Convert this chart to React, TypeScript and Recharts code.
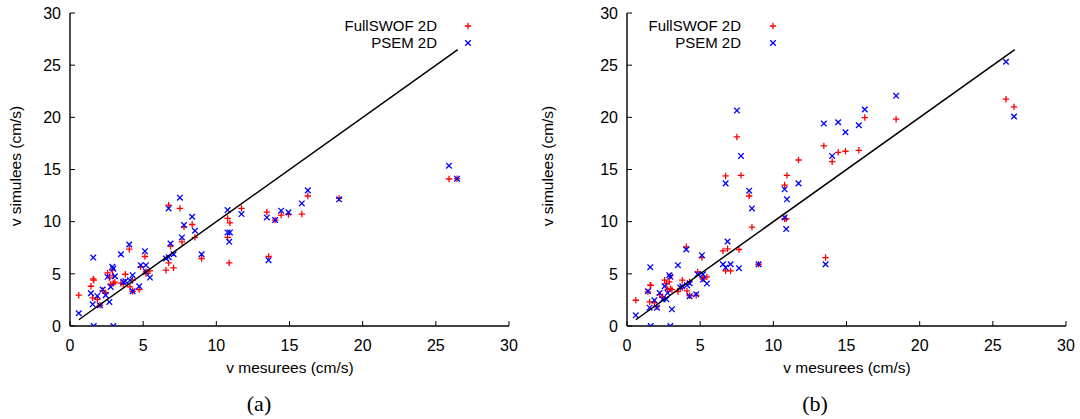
import React from 'react';
import { ScatterChart, Scatter, XAxis, YAxis } from 'recharts';

// measured velocities (cm/s), shared by both panels and both series
const measured = [
  0.6, 1.43, 1.59, 1.62, 1.55, 1.87, 2.05, 2.23, 2.44, 2.57,
  2.69, 2.78, 2.89, 2.96, 2.96, 3.07, 3.48, 3.64, 3.78, 4.05,
  4.1, 4.28, 4.28, 4.73, 4.83, 5.12, 5.19, 5.19, 5.46, 6.56,
  6.74, 6.74, 6.87, 7.08, 7.51, 7.65, 7.79, 8.35, 8.54, 8.99,
  10.77, 10.77, 10.93, 10.88, 11.72, 13.45, 13.57, 14.02, 14.43, 14.93,
  15.84, 16.25, 18.39, 25.9, 26.45,
];
// panel (a)
const fullswofA = [
  2.95, 3.81, 4.51, 4.4, 2.69, 2.56, 1.99, 3.4, 3.2, 5.09,
  4.61, 4.0, 5.35, 4.8, 4.07, 4.2, 4.1, 4.0, 4.96, 7.36,
  3.75, 4.39, 3.33, 3.49, 5.67, 6.66, 5.03, 5.2, 5.28, 5.35,
  11.59, 6.05, 7.65, 5.57, 11.27, 8.07, 9.51, 9.73, 8.49, 6.47,
  10.31, 8.49, 9.89, 6.05, 11.27, 10.92, 6.66, 10.15, 10.63, 10.69,
  10.73, 12.46, 12.23, 14.09, 14.12,
];
const psemA = [
  1.22, 3.14, 6.56, 0, 2.08, 2.88, 1.99, 3.49, 2.95, 4.71,
  2.31, 3.75, 5.67, 5.5, 0, 4.77, 6.88, 4.23, 4.3, 7.81,
  4.39, 4.87, 3.33, 3.81, 5.83, 7.17, 5.83, 5.19, 4.64, 6.47,
  11.27, 6.6, 7.91, 6.88, 12.3, 8.49, 9.67, 10.47, 9.13, 6.88,
  11.11, 8.97, 8.97, 8.07, 10.73, 10.41, 6.31, 10.15, 11.05, 10.89,
  11.75, 13.0, 12.14, 15.37, 14.12,
];
// panel (b)
const fullswofB = [
  2.47, 3.27, 3.91, 3.9, 2.31, 2.21, 1.83, 3.0, 2.8, 4.39,
  4.07, 3.5, 4.23, 4.8, 3.55, 3.49, 3.3, 3.6, 4.39, 7.59,
  3.36, 4.23, 2.9, 2.95, 5.19, 6.56, 4.64, 4.5, 4.71, 7.2,
  14.38, 5.28, 7.4, 5.28, 18.12, 7.33, 14.44, 12.46, 9.48, 5.92,
  13.51, 10.28, 14.44, 10.28, 15.91, 17.26, 6.56, 15.75, 16.65, 16.75,
  16.84, 19.98, 19.82, 21.74, 21.0,
];
const psemB = [
  1.02, 3.33, 5.64, 0, 1.76, 2.47, 1.76, 3.17, 2.56, 3.81,
  2.56, 3.17, 4.87, 4.71, 0, 1.6, 5.83, 3.68, 3.8, 7.33,
  3.91, 4.1, 2.85, 3.04, 4.96, 6.79, 4.96, 4.45, 4.07, 5.92,
  13.67, 5.6, 8.1, 5.92, 20.65, 5.54, 16.3, 12.97, 11.27, 5.92,
  13.1, 10.41, 12.14, 9.29, 13.67, 19.4, 5.92, 16.3, 19.53, 18.57,
  19.24, 20.75, 22.06, 25.33, 20.08,
];
const tickValues = [0, 5, 10, 15, 20, 25, 30];
const diagonal = [0.6, 26.5];
const seriesNames = ['FullSWOF 2D', 'PSEM 2D'];
const xTitle = 'v mesurees (cm/s)';
const yTitle = 'v simulees (cm/s)';
const captions = ['(a)', '(b)'];

const RED = '#ff0000';
const BLUE = '#0000ff';
const SANS = '"Liberation Sans", Arial, Helvetica, sans-serif';
const SERIF = '"Liberation Serif", "Times New Roman", serif';

const Plus = (props: any) => {
  const { cx, cy } = props;
  if (cx == null || cy == null) return <g />;
  const s = 3.2;
  return (
    <path d={`M${cx - s},${cy}H${cx + s}M${cx},${cy - s}V${cy + s}`} stroke={RED} strokeWidth={1.3} fill="none" />
  );
};
const Cross = (props: any) => {
  const { cx, cy } = props;
  if (cx == null || cy == null) return <g />;
  const s = 2.8;
  return (
    <path d={`M${cx - s},${cy - s}L${cx + s},${cy + s}M${cx - s},${cy + s}L${cx + s},${cy - s}`} stroke={BLUE} strokeWidth={1.3} fill="none" />
  );
};
const NoShape = () => <g />;

const tickStyle = { fill: '#000', fontSize: 16, fontFamily: SANS };
const axisLine = { stroke: '#000', strokeWidth: 1.4 };
const tickLine = { stroke: '#000', strokeWidth: 1 };

type PanelProps = {
  red: number[];
  blue: number[];
  marginLeft: number;
  marginRight: number;
};

function Panel({ red, blue, marginLeft, marginRight }: PanelProps) {
  const redData = measured.map((x, i) => ({ x, y: red[i] }));
  const blueData = measured.map((x, i) => ({ x, y: blue[i] }));
  const lineData = diagonal.map((v) => ({ x: v, y: v }));
  return (
    <ScatterChart
      width={540}
      height={419}
      margin={{ top: 13, right: marginRight, bottom: 53, left: marginLeft }}
    >
      <XAxis
        xAxisId="b"
        type="number"
        dataKey="x"
        domain={[0, 30]}
        ticks={tickValues}
        height={40}
        tickSize={-5}
        tickMargin={18.5}
        axisLine={axisLine}
        tickLine={tickLine}
        tick={tickStyle}
        allowDataOverflow
      />
      <XAxis
        xAxisId="t"
        orientation="top"
        type="number"
        dataKey="x"
        domain={[0, 30]}
        ticks={tickValues}
        height={0}
        tickSize={-5}
        axisLine={axisLine}
        tickLine={tickLine}
        tick={false}
        allowDataOverflow
      />
      <YAxis
        yAxisId="l"
        type="number"
        dataKey="y"
        domain={[0, 30]}
        ticks={tickValues}
        width={60}
        tickSize={-5}
        tickMargin={14}
        axisLine={axisLine}
        tickLine={tickLine}
        tick={tickStyle}
        allowDataOverflow
      />
      <YAxis
        yAxisId="r"
        orientation="right"
        type="number"
        dataKey="y"
        domain={[0, 30]}
        ticks={tickValues}
        width={0}
        tickSize={-5}
        axisLine={axisLine}
        tickLine={tickLine}
        tick={false}
        allowDataOverflow
      />
      <Scatter xAxisId="b" yAxisId="l" data={redData} shape={Plus} isAnimationActive={false} />
      <Scatter xAxisId="b" yAxisId="l" data={blueData} shape={Cross} isAnimationActive={false} />
      <Scatter
        xAxisId="b"
        yAxisId="l"
        data={lineData}
        shape={NoShape}
        line={{ stroke: '#000', strokeWidth: 1.5 }}
        lineType="joint"
        isAnimationActive={false}
      />
    </ScatterChart>
  );
}

const LegendMarker = ({ kind }: { kind: 'plus' | 'cross' }) => (
  <svg width={10} height={10} style={{ display: 'block' }}>
    {kind === 'plus' ? <Plus cx={5} cy={5} /> : <Cross cx={5} cy={5} />}
  </svg>
);

function Legend({ textRight, markerX }: { textRight: number; markerX: number }) {
  const rows: Array<{ name: string; kind: 'plus' | 'cross'; cy: number }> = [
    { name: seriesNames[0], kind: 'plus', cy: 26 },
    { name: seriesNames[1], kind: 'cross', cy: 43 },
  ];
  return (
    <>
      {rows.map((r) => (
        <React.Fragment key={r.name}>
          <div
            style={{
              position: 'absolute',
              right: 1080 - textRight,
              top: r.cy - 8,
              height: 16,
              lineHeight: '16px',
              fontFamily: SANS,
              fontSize: 15,
              color: '#000',
              whiteSpace: 'nowrap',
            }}
          >
            {r.name}
          </div>
          <div style={{ position: 'absolute', left: markerX - 5, top: r.cy - 5 }}>
            <LegendMarker kind={r.kind} />
          </div>
        </React.Fragment>
      ))}
    </>
  );
}

const centered = (x: number, y: number, extra: React.CSSProperties = {}): React.CSSProperties => ({
  position: 'absolute',
  left: x,
  top: y,
  transform: 'translate(-50%, -50%)',
  whiteSpace: 'nowrap',
  ...extra,
});

export default function App() {
  return (
    <div style={{ position: 'absolute', left: 0, top: 0, width: 1080, height: 419, background: '#fff', overflow: 'hidden' }}>
      <div style={{ position: 'absolute', left: 0, top: 0 }}>
        <Panel red={fullswofA} blue={psemA} marginLeft={10} marginRight={31} />
      </div>
      <div style={{ position: 'absolute', left: 540, top: 0 }}>
        <Panel red={fullswofB} blue={psemB} marginLeft={27} marginRight={14} />
      </div>

      <Legend textRight={437} markerX={468} />
      <Legend textRight={741} markerX={773} />

      <div style={centered(16, 166, { transform: 'translate(-50%, -50%) rotate(-90deg)', fontFamily: SANS, fontSize: 15.5 })}>{yTitle}</div>
      <div style={centered(548, 166, { transform: 'translate(-50%, -50%) rotate(-90deg)', fontFamily: SANS, fontSize: 15.5 })}>{yTitle}</div>

      <div style={centered(290, 368, { fontFamily: SANS, fontSize: 15.5 })}>{xTitle}</div>
      <div style={centered(847, 368, { fontFamily: SANS, fontSize: 15.5 })}>{xTitle}</div>

      <div style={centered(259, 404, { fontFamily: SERIF, fontSize: 22 })}>{captions[0]}</div>
      <div style={centered(815, 404, { fontFamily: SERIF, fontSize: 22 })}>{captions[1]}</div>
    </div>
  );
}
